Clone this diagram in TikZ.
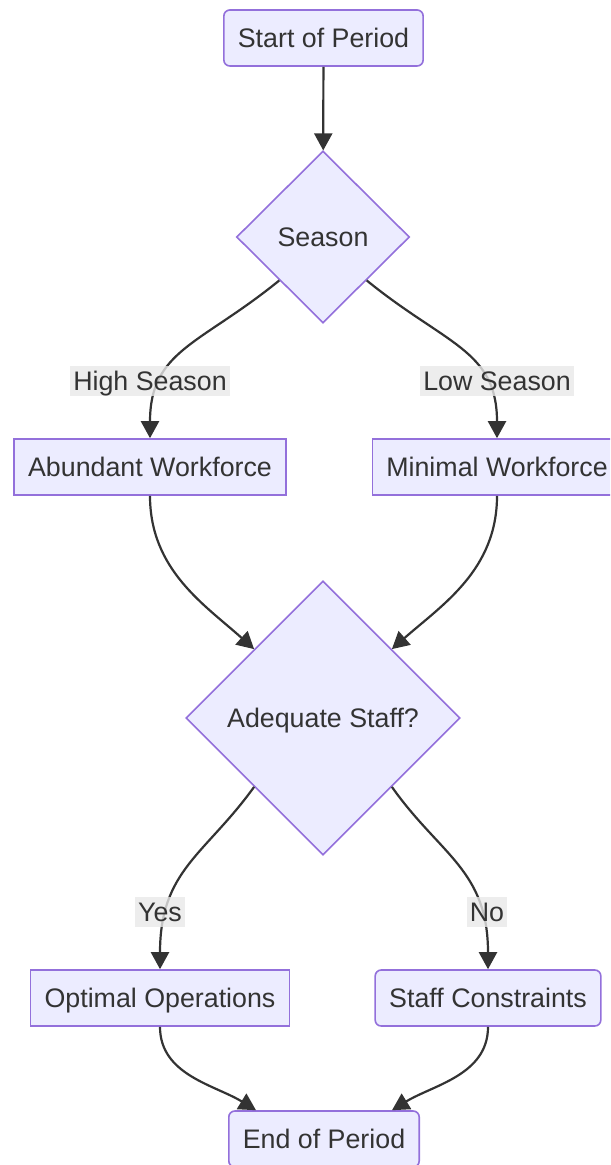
\documentclass[tikz,border=0pt]{standalone}
\usepackage{fontspec}
\setmainfont{Liberation Sans}
\usetikzlibrary{arrows.meta, positioning, shapes.geometric, calc}
\definecolor{mmfill}{HTML}{ECECFF}
\definecolor{mmedge}{HTML}{9370DB}
\definecolor{mmtext}{HTML}{333333}
\definecolor{mmlabel}{HTML}{E8E8E8}
\tikzset{
  mmfont/.style={font=\fontsize{13.4}{16}\selectfont, text=mmtext,
    text height=10.4pt, text depth=1pt},
  box/.style={
    mmfont, draw=mmedge, fill=mmfill, line width=.8pt,
    inner xsep=7pt, minimum height=28pt},
  roundbox/.style={box, rounded corners=3pt},
  choice/.style={
    mmfont, diamond, draw=mmedge, fill=mmfill, line width=.8pt, inner sep=0pt},
  cond/.style={mmfont, fill=mmlabel, fill opacity=.8, text opacity=1,
    inner xsep=1.5pt, inner ysep=1.7pt},
  flow/.style={-{Triangle[length=8.5pt, width=9pt]}, draw=mmtext, line width=1.1pt},
}

\begin{document}
\begin{tikzpicture}[x=0.5pt, y=-0.5pt]
  % page frame in reference pixels
  \clip (0,0) rectangle (610,1165);
  \node[roundbox] (start) at (323.5,38) {Start of Period};
  \node[choice, minimum width=86.5pt, minimum height=86pt] (season) at (323,237) {Season};
  \node[box] (abundant) at (150,467) {Abundant Workforce};
  \node[box] (minimal) at (497,467) {Minimal Workforce};
  \node[choice, minimum width=137pt, minimum height=137pt] (adequate) at (323,718) {Adequate Staff?};
  \node[box] (optimal) at (160,998) {Optimal Operations};
  \node[roundbox] (constraints) at (488,998) {Staff Constraints};
  \node[roundbox] (endp) at (324,1139) {End of Period};

  \draw[flow] (start) -- (season);
  \draw[flow] (season.south west) .. controls (200,345) and (150,350) .. (abundant.north);
  \draw[flow] (season.south east) .. controls (446,345) and (497,350) .. (minimal.north);
  \draw[flow] (abundant.south) .. controls (150,570) and (205,605) .. (adequate.north west);
  \draw[flow] (minimal.south) .. controls (497,570) and (442,605) .. (adequate.north east);
  \draw[flow] (adequate.south west) .. controls (205,855) and (160,870) .. (optimal.north);
  \draw[flow] (adequate.south east) .. controls (440,855) and (488,870) .. (constraints.north);
  \draw[flow] (optimal.south) .. controls (160,1075) and (215,1085) .. ([xshift=-34pt]endp.north);
  \draw[flow] (constraints.south) .. controls (488,1075) and (433,1085) .. ([xshift=34pt]endp.north);

  % edge labels sit over the curves
  \node[cond] (high) at (150,381) {High Season};
  \node[cond] (low) at (497,381) {Low Season};
  \node[cond] (yes) at (160,912) {Yes};
  \node[cond] (no) at (487,912) {No};
\end{tikzpicture}
\end{document}
